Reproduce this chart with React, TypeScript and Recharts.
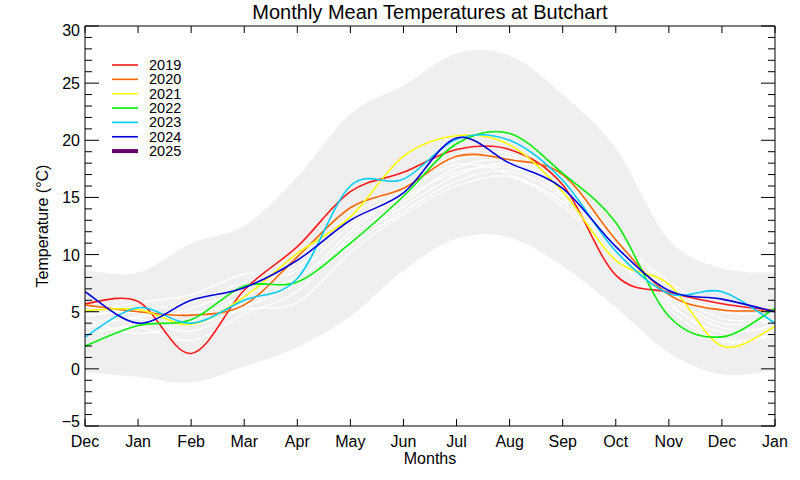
import React from 'react';
import { ComposedChart, Line, Area, XAxis, YAxis } from 'recharts';

// month ticks, previous Dec through following Jan
const months = ['Dec', 'Jan', 'Feb', 'Mar', 'Apr', 'May', 'Jun', 'Jul', 'Aug', 'Sep', 'Oct', 'Nov', 'Dec', 'Jan'];
const xTicks = [0, 1, 2, 3, 4, 5, 6, 7, 8, 9, 10, 11, 12, 13];
const yTicks = [-5, -4, -3, -2, -1, 0, 1, 2, 3, 4, 5, 6, 7, 8, 9, 10, 11, 12, 13, 14, 15, 16, 17, 18, 19, 20, 21, 22, 23, 24, 25, 26, 27, 28, 29, 30];

// grey envelope
const bandLow = [-0.3, -0.7, -1.2, 0.2, 1.9, 4.6, 8.6, 11.4, 11.5, 9.0, 5.4, 1.4, -0.5, -0.1];
const bandHigh = [8.6, 8.4, 11.0, 12.5, 16.8, 22.3, 24.8, 27.6, 27.4, 24.0, 19.3, 11.3, 8.8, 8.4];

// older years (white)
const hist = [
  [4.6, 5.2, 5.8, 7.6, 8.6, 12.5, 15.0, 17.2, 17.6, 15.6, 10.8, 6.9, 4.4, 4.3],
  [4.0, 4.4, 3.3, 5.4, 7.4, 10.8, 13.8, 16.4, 17.3, 15.0, 10.2, 6.2, 3.6, 3.5],
  [3.2, 3.6, 2.5, 4.8, 6.8, 11.6, 14.6, 17.6, 18.2, 15.9, 11.0, 5.9, 2.6, 3.0],
  [5.0, 5.8, 6.5, 8.3, 8.9, 13.4, 16.0, 18.3, 18.5, 16.3, 11.4, 7.3, 5.0, 4.8],
  [3.6, 4.6, 4.9, 5.9, 7.7, 12.0, 15.4, 17.9, 17.0, 14.6, 9.8, 5.6, 3.2, 3.8],
  [4.3, 3.1, 4.2, 6.4, 8.0, 11.2, 14.2, 16.9, 17.9, 15.3, 10.5, 6.5, 4.0, 4.2],
  [2.9, 4.0, 5.3, 7.0, 9.4, 12.9, 15.6, 18.8, 18.8, 16.6, 11.7, 7.6, 5.4, 5.0],
  [4.8, 4.9, 3.9, 5.2, 5.8, 10.2, 13.5, 16.0, 16.8, 14.2, 9.6, 5.2, 2.4, 2.8],
];

const t2019 = [5.7, 5.9, 1.35, 6.9, 10.7, 15.5, 17.2, 19.2, 19.2, 16.1, 8.2, 6.7, 5.7, 5.1];
const t2020 = [5.6, 5.0, 4.7, 5.6, 9.8, 14.1, 15.8, 18.6, 18.3, 17.0, 11.3, 6.5, 5.15, 5.15];
const t2021 = [5.1, 5.2, 3.9, 6.3, 10.1, 13.3, 18.6, 20.4, 19.6, 15.5, 9.5, 7.4, 2.0, 3.7];
const t2022 = [2.0, 3.8, 4.3, 7.25, 7.6, 11.0, 15.1, 19.7, 20.6, 17.1, 12.8, 4.6, 2.8, 5.3];
const t2023 = [2.8, 5.35, 4.0, 6.0, 7.9, 16.0, 16.6, 20.1, 20.0, 16.5, 10.3, 6.6, 6.75, 4.0];
const t2024 = [6.75, 4.0, 6.0, 7.1, 9.5, 13.0, 15.4, 20.2, 18.0, 15.8, 10.7, 6.85, 6.1, 5.0];

const years = [
  { name: '2019', color: '#ff1a1a', values: t2019 },
  { name: '2020', color: '#ff6600', values: t2020 },
  { name: '2021', color: '#ffff00', values: t2021 },
  { name: '2022', color: '#00ee00', values: t2022 },
  { name: '2023', color: '#00ccff', values: t2023 },
  { name: '2024', color: '#0000dd', values: t2024 },
  { name: '2025', color: '#660066', values: [] as number[] },
];

const data = months.map((_, i) => {
  const row: any = { m: i, band: [bandLow[i], bandHigh[i]], low: bandLow[i] };
  hist.forEach((h, k) => { row['h' + k] = h[i]; });
  years.forEach((y) => { if (y.values.length) row['y' + y.name] = y.values[i]; });
  return row;
});

// Catmull-Rom style curve (less overshoot than natural, rounder than monotone)
function smoothCurve(context: any) {
  let pts: number[][] = [];
  let line = NaN;
  return {
    areaStart() { line = 0; },
    areaEnd() { line = NaN; },
    lineStart() { pts = []; },
    lineEnd() {
      const n = pts.length;
      if (n) {
        if (line) context.lineTo(pts[0][0], pts[0][1]);
        else context.moveTo(pts[0][0], pts[0][1]);
        for (let i = 0; i < n - 1; i++) {
          const p0 = pts[i - 1] || pts[i];
          const p1 = pts[i];
          const p2 = pts[i + 1];
          const p3 = pts[i + 2] || p2;
          context.bezierCurveTo(
            p1[0] + (p2[0] - p0[0]) / 6,
            p1[1] + (p2[1] - p0[1]) / 6,
            p2[0] - (p3[0] - p1[0]) / 6,
            p2[1] - (p3[1] - p1[1]) / 6,
            p2[0],
            p2[1],
          );
        }
      }
      if (line || (line !== 0 && n === 1)) context.closePath();
      line = 1 - line;
    },
    point(x: number, y: number) { pts.push([+x, +y]); },
  };
}

const FONT = '"Liberation Sans", Arial, Helvetica, sans-serif';

const fmt = (v: number) => (v < 0 ? '\u2212' + Math.abs(v) : String(v));

const LeftTick = (props: any) => {
  const { x, y, payload } = props;
  const v = payload.value;
  const major = v % 5 === 0;
  let dy = 6;
  if (v === 30) dy = 10;
  if (v === -5) dy = 1;
  return (
    <g>
      <line x1={x} y1={y} x2={x + (major ? 14 : 7)} y2={y} stroke="#000" />
      {major && (
        <text x={x - 5} y={y + dy} textAnchor="end" fontSize={16} fontFamily={FONT} fill="#000">
          {fmt(v)}
        </text>
      )}
    </g>
  );
};

const RightTick = (props: any) => {
  const { x, y, payload } = props;
  const major = payload.value % 5 === 0;
  return <line x1={x} y1={y} x2={x - (major ? 14 : 7)} y2={y} stroke="#000" />;
};

const BottomTick = (props: any) => {
  const { x, y, payload } = props;
  return (
    <g>
      <line x1={x} y1={y} x2={x} y2={y - 7} stroke="#000" />
      <text x={x} y={y + 21} textAnchor="middle" fontSize={16} fontFamily={FONT} fill="#000">
        {months[payload.value]}
      </text>
    </g>
  );
};

const TopTick = (props: any) => {
  const { x, y } = props;
  return <line x1={x} y1={y} x2={x} y2={y + 7} stroke="#000" />;
};

export default function App() {
  return (
    <div style={{ position: 'absolute', left: 0, top: 0, width: 800, height: 480, background: '#fff' }}>
      <ComposedChart width={800} height={480} data={data} margin={{ top: 16, right: 5, bottom: 24, left: 25 }}>
        <XAxis
          xAxisId="b"
          dataKey="m"
          type="number"
          domain={[0, 13]}
          ticks={xTicks}
          height={30}
          tickSize={0}
          tickMargin={0}
          tickLine={false}
          tick={<BottomTick />}
          axisLine={{ stroke: '#000' }}
          allowDataOverflow
          interval={0}
        />
        <XAxis
          xAxisId="t"
          orientation="top"
          dataKey="m"
          type="number"
          domain={[0, 13]}
          ticks={xTicks}
          height={10}
          tickSize={0}
          tickMargin={0}
          tickLine={false}
          tick={<TopTick />}
          axisLine={{ stroke: '#000' }}
          allowDataOverflow
          interval={0}
        />
        <YAxis
          yAxisId="l"
          type="number"
          domain={[-5, 30]}
          ticks={yTicks}
          width={60}
          tickSize={0}
          tickMargin={0}
          tickLine={false}
          tick={<LeftTick />}
          axisLine={{ stroke: '#000' }}
          allowDataOverflow
          interval={0}
        />
        <YAxis
          yAxisId="r"
          orientation="right"
          type="number"
          domain={[-5, 30]}
          ticks={yTicks}
          width={20}
          tickSize={0}
          tickMargin={0}
          tickLine={false}
          tick={<RightTick />}
          axisLine={{ stroke: '#000' }}
          allowDataOverflow
          interval={0}
        />
        <Area
          xAxisId="b"
          yAxisId="l"
          type={smoothCurve as any}
          dataKey="band"
          fill="#efefef"
          fillOpacity={1}
          stroke="none"
          isAnimationActive={false}
        />
        <Line
          xAxisId="t"
          yAxisId="r"
          dataKey="low"
          stroke="none"
          dot={false}
          isAnimationActive={false}
        />
        {hist.map((_, k) => (
          <Line
            key={'h' + k}
            xAxisId="b"
            yAxisId="l"
            type={smoothCurve as any}
            dataKey={'h' + k}
            stroke="#ffffff"
            strokeWidth={1.3}
            dot={false}
            isAnimationActive={false}
          />
        ))}
        {years
          .filter((y) => y.values.length)
          .map((y) => (
            <Line
              key={y.name}
              xAxisId="b"
              yAxisId="l"
              type={smoothCurve as any}
              dataKey={'y' + y.name}
              stroke={y.color}
              strokeWidth={1.6}
              dot={false}
              isAnimationActive={false}
            />
          ))}
      </ComposedChart>
      <svg width={800} height={480} style={{ position: 'absolute', left: 0, top: 0, pointerEvents: 'none' }}>
        <text x={430} y={19} textAnchor="middle" fontSize={20} fontFamily={FONT} fill="#000">
          Monthly Mean Temperatures at Butchart
        </text>
        <text x={430} y={464} textAnchor="middle" fontSize={16} fontFamily={FONT} fill="#000">
          Months
        </text>
        <text transform="translate(48,226) rotate(-90)" textAnchor="middle" fontSize={16} fontFamily={FONT} fill="#000">
          Temperature (°C)
        </text>
        {years.map((y, i) => {
          const ly = 65 + i * 14.35;
          return (
            <g key={y.name}>
              <line x1={112} y1={ly} x2={138} y2={ly} stroke={y.color} strokeWidth={y.name === '2025' ? 4 : 1.6} />
              <text x={149} y={ly + 5} fontSize={14.5} fontFamily={FONT} fill="#000">
                {y.name}
              </text>
            </g>
          );
        })}
      </svg>
    </div>
  );
}
